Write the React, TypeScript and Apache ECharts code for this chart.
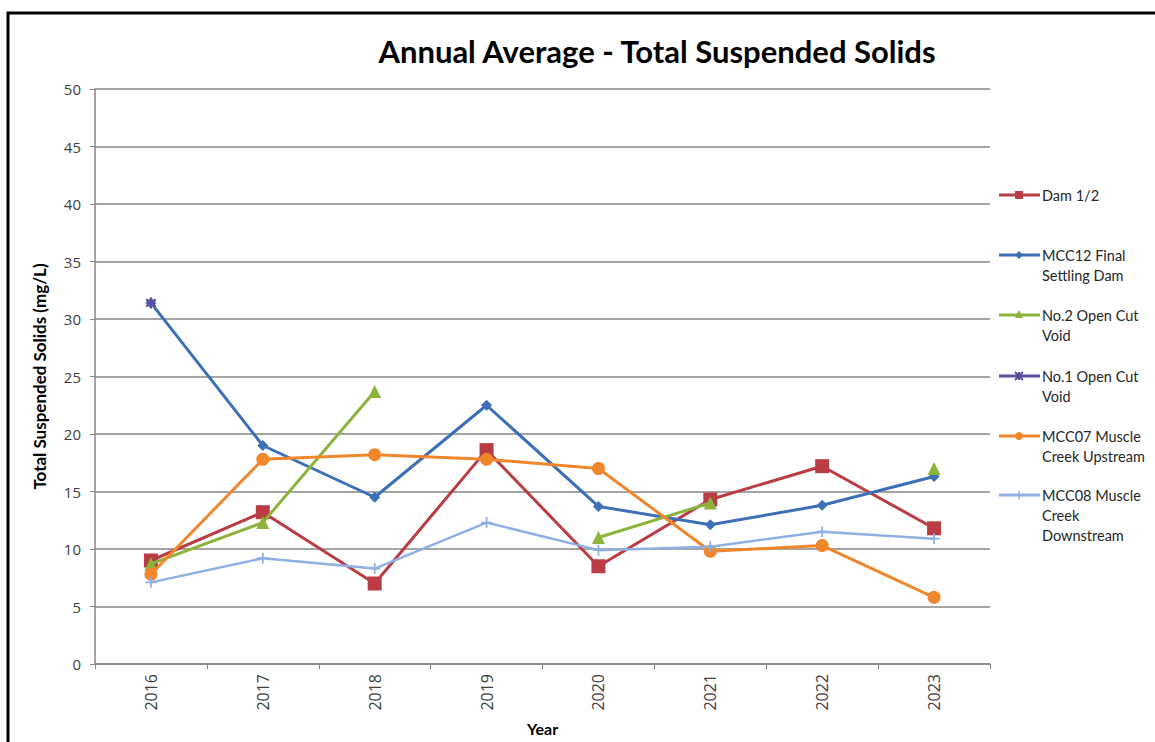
import { useEffect, useRef } from "react";
import * as echarts from "echarts";

const years = ["2016", "2017", "2018", "2019", "2020", "2021", "2022", "2023"];
const dam12 = [9.0, 13.2, 7.0, 18.6, 8.5, 14.3, 17.2, 11.8];
const mcc12 = [31.4, 19.0, 14.5, 22.5, 13.7, 12.1, 13.8, 16.3];
const no2 = [8.7, 12.3, 23.7, null, 11.0, 14.0, null, 17.0];
const no1 = [31.4, null, null, null, null, null, null, null];
const mcc07 = [7.8, 17.8, 18.2, 17.8, 17.0, 9.8, 10.3, 5.8];
const mcc08 = [7.1, 9.2, 8.3, 12.3, 9.9, 10.2, 11.5, 10.9];

const seriesNames = [
  "Dam 1/2",
  "MCC12 Final Settling Dam",
  "No.2 Open Cut Void",
  "No.1 Open Cut Void",
  "MCC07 Muscle Creek Upstream",
  "MCC08 Muscle Creek Downstream",
];
const legendLines = [
  ["Dam 1/2"],
  ["MCC12 Final", "Settling Dam"],
  ["No.2 Open Cut", "Void"],
  ["No.1 Open Cut", "Void"],
  ["MCC07 Muscle", "Creek Upstream"],
  ["MCC08 Muscle", "Creek", "Downstream"],
];
const seriesData = [dam12, mcc12, no2, no1, mcc07, mcc08];
const colors = ["#BA3C44", "#3C6FB6", "#8DB33C", "#5B4FA0", "#F0872C", "#8EB0E2"];

const ASTERISK =
  "path://M4,0H6V3.6L8.6,1L10,2.4L7.4,5L10,7.6L8.6,9L6,6.4V10H4V6.4L1.4,9L0,7.6L2.6,5L0,2.4L1.4,1L4,3.6Z";
const PLUS = "path://M4.2,0H5.8V4.2H10V5.8H5.8V10H4.2V5.8H0V4.2H4.2Z";
const symbols = ["rect", "diamond", "triangle", ASTERISK, "circle", PLUS];
const symbolSizes = [14, 11, 13, 11, 13, 11];

const FONT = "Lato, 'Open Sans', sans-serif";
const NUMFONT = "'Open Sans', sans-serif";

function legendMarker(i: number, cx: number, cy: number, color: string) {
  const s = 4;
  const st = { fill: color };
  switch (i) {
    case 0:
      return { type: "rect", shape: { x: cx - s, y: cy - s, width: 2 * s, height: 2 * s }, style: st };
    case 1:
      return { type: "polygon", shape: { points: [[cx, cy - s], [cx + s, cy], [cx, cy + s], [cx - s, cy]] }, style: st };
    case 2:
      return { type: "polygon", shape: { points: [[cx, cy - s - 1], [cx + s, cy + s - 1], [cx - s, cy + s - 1]] }, style: st };
    case 3:
      return {
        type: "group",
        children: [
          { type: "line", shape: { x1: cx - s, y1: cy - s, x2: cx + s, y2: cy + s }, style: { stroke: color, lineWidth: 2 } },
          { type: "line", shape: { x1: cx - s, y1: cy + s, x2: cx + s, y2: cy - s }, style: { stroke: color, lineWidth: 2 } },
          { type: "line", shape: { x1: cx, y1: cy - s, x2: cx, y2: cy + s }, style: { stroke: color, lineWidth: 2 } },
        ],
      };
    case 4:
      return { type: "circle", shape: { cx, cy, r: s }, style: st };
    default:
      return { type: "line", shape: { x1: cx, y1: cy - s, x2: cx, y2: cy + s }, style: { stroke: color, lineWidth: 1.5 } };
  }
}

export default function App() {
  const ref = useRef<HTMLDivElement>(null);
  useEffect(() => {
    if (!ref.current) return;
    const chart = echarts.init(ref.current, null, { renderer: "svg" });

    const legendTops = [195, 255, 315, 376, 436, 495];
    const legendGraphics: any[] = [];
    legendLines.forEach((lines, i) => {
      const y = legendTops[i];
      legendGraphics.push({
        type: "line",
        shape: { x1: 999, y1: y, x2: 1040, y2: y },
        style: { stroke: colors[i], lineWidth: 3 },
      });
      legendGraphics.push(legendMarker(i, 1019, y, colors[i]));
      lines.forEach((t, j) => {
        legendGraphics.push({
          type: "text",
          x: 1042,
          y: y + j * 20,
          style: {
            text: t,
            fill: "#262626",
            font: `14.5px ${FONT}`,
            verticalAlign: "middle",
            align: "left",
          },
        });
      });
    });

    chart.setOption({
      animation: false,
      backgroundColor: "#ffffff",
      title: {
        text: "Annual Average - Total Suspended Solids",
        left: 652,
        top: 30,
        textAlign: "center",
        textStyle: { fontFamily: FONT, fontWeight: "bold", fontSize: 31, color: "#000000" },
      },
      grid: { left: 95, top: 89, width: 895, height: 575, containLabel: false, outerBoundsMode: "none" },
      xAxis: {
        type: "category",
        data: years,
        boundaryGap: true,
        name: "Year",
        nameLocation: "middle",
        nameGap: 56,
        nameTextStyle: { fontFamily: FONT, fontWeight: "bold", fontSize: 16, color: "#000000" },
        axisLine: { lineStyle: { color: "#868686", width: 1.5 } },
        axisTick: { show: true, alignWithLabel: false, length: 5, lineStyle: { color: "#868686" } },
        axisLabel: {
          rotate: 90,
          margin: 10,
          fontFamily: NUMFONT,
          fontSize: 16,
          color: "#404040",
        },
        splitLine: { show: false },
      },
      yAxis: {
        type: "value",
        min: 0,
        max: 50,
        interval: 5,
        name: "Total Suspended Solids (mg/L)",
        nameLocation: "middle",
        nameGap: 47,
        nameRotate: 90,
        nameTextStyle: { fontFamily: FONT, fontWeight: "bold", fontSize: 17, color: "#000000" },
        axisLine: { show: true, lineStyle: { color: "#868686", width: 1.5 } },
        axisTick: { show: true, length: 5, lineStyle: { color: "#868686" } },
        axisLabel: {
          margin: 14,
          fontFamily: NUMFONT,
          fontSize: 15,
          color: "#404040",
        },
        splitLine: { show: true, lineStyle: { color: "#868686", width: 1.5 } },
      },
      series: seriesNames.map((name, i) => ({
        name,
        type: "line",
        data: seriesData[i],
        connectNulls: false,
        symbol: symbols[i],
        symbolSize: symbolSizes[i],
        showAllSymbol: true,
        itemStyle: { color: colors[i] },
        lineStyle: { color: colors[i], width: i === 5 ? 2.5 : 3 },
        z: 2 + i,
      })),
      graphic: [
        {
          type: "rect",
          shape: { x: 8, y: 13, width: 1160, height: 760 },
          style: { fill: "none", stroke: "#000000", lineWidth: 3 },
          z: 100,
        },
        ...legendGraphics,
      ],
    });
    return () => chart.dispose();
  }, []);
  return (
    <div
      ref={ref}
      style={{ position: "fixed", left: 0, top: 0, width: 1155, height: 742, background: "#fff" }}
    />
  );
}
